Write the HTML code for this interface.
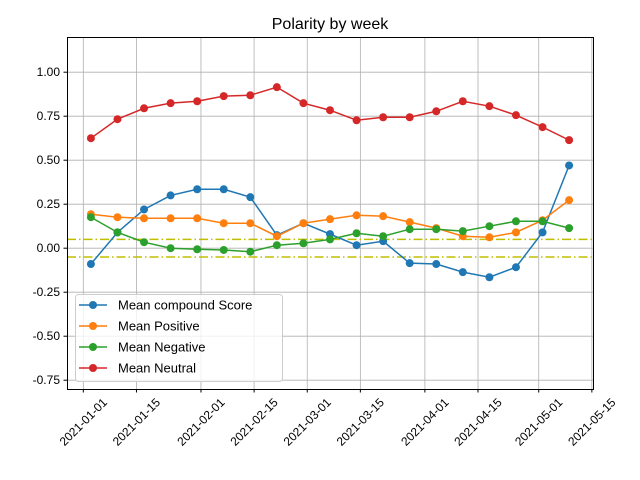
<!DOCTYPE html>
<html><head><meta charset="utf-8"><style>
body{margin:0;background:#fff}
svg{font-family:"Liberation Sans","DejaVu Sans",sans-serif;display:block}
</style></head><body>
<svg id="chart" width="640" height="480" viewBox="0 0 640 480" xmlns="http://www.w3.org/2000/svg">
<rect width="640" height="480" fill="#fff"/>
<text x="330" y="29" font-size="16" text-anchor="middle" fill="#000">Polarity by week</text>
<g id="grid"></g>
<g id="refs"></g>
<g id="series"></g>
<rect x="67.5" y="37.5" width="526" height="352" fill="none" stroke="#000" stroke-width="1"/>
<g id="axes"></g>
<g id="legend"></g>
</svg>
<script>
const compound=[-0.09,0.09,0.22,0.30,0.335,0.335,0.29,0.074,0.142,0.08,0.017,0.04,-0.085,-0.09,-0.136,-0.165,-0.108,0.09,0.47];
const positive=[0.193,0.176,0.17,0.17,0.17,0.142,0.142,0.068,0.142,0.165,0.187,0.182,0.148,0.114,0.068,0.062,0.09,0.159,0.273];
const negative=[0.176,0.09,0.034,0.0,-0.006,-0.01,-0.02,0.017,0.028,0.05,0.085,0.068,0.108,0.108,0.097,0.125,0.153,0.153,0.114];
const neutral=[0.625,0.733,0.795,0.824,0.835,0.864,0.869,0.915,0.824,0.784,0.727,0.744,0.744,0.778,0.835,0.807,0.756,0.688,0.614];
const yTicks=[-0.75,-0.5,-0.25,0,0.25,0.5,0.75,1.0];
const xTickLabels=["2021-01-01","2021-01-15","2021-02-01","2021-02-15","2021-03-01","2021-03-15","2021-04-01","2021-04-15","2021-05-01","2021-05-15"];
const refLines=[0.05,-0.05];
const seriesNames=["Mean compound Score","Mean Positive","Mean Negative","Mean Neutral"];
const NS="http://www.w3.org/2000/svg";
const DAY=86400000;
const t0=Date.UTC(2021,0,3);
const xMin=t0-6.3*DAY, xMax=t0+126*DAY+6.3*DAY;
const X=t=>67+(t-xMin)/(xMax-xMin)*526;
const Y=v=>37+(1.2-v)/2.0*352;
function el(tag,attrs,parent){const e=document.createElementNS(NS,tag);for(const k in attrs)e.setAttribute(k,attrs[k]);parent.appendChild(e);return e;}
const grid=document.getElementById('grid'),axes=document.getElementById('axes'),refs=document.getElementById('refs'),ser=document.getElementById('series'),leg=document.getElementById('legend');
yTicks.forEach(v=>{const y=Y(v);
 const g=el('line',{x1:67,x2:593,y1:y,y2:y,stroke:'#b0b0b0','stroke-width':0.8},grid);
 
 el('line',{x1:63.5,x2:67,y1:y,y2:y,stroke:'#000'},axes);
 const t=el('text',{x:60,y:y+4,'font-size':12,'text-anchor':'end'},axes);t.textContent=v.toFixed(2);
 
});
xTickLabels.forEach(s=>{const p=s.split('-');const x=X(Date.UTC(+p[0],+p[1]-1,+p[2]));
 const g=el('line',{x1:x,x2:x,y1:37,y2:389,stroke:'#b0b0b0','stroke-width':0.8},grid);
 
 el('line',{x1:x,x2:x,y1:389,y2:392.5,stroke:'#000'},axes);
 const t=el('text',{x:0,y:4,'font-size':12,'text-anchor':'middle',transform:`translate(${x},${422}) rotate(-45)`},axes);t.textContent=s;
 
});
refLines.forEach(v=>{const l=el('line',{x1:67,x2:593,y1:Y(v),y2:Y(v),stroke:'#bfbf00','stroke-width':1.5,'stroke-dasharray':'9,3,1.5,3'},refs);
 });
const colors=['#1f77b4','#ff7f0e','#2ca02c','#d62728'];
[compound,positive,negative,neutral].forEach((arr,i)=>{
 const g=el('g',{},ser);
 const pts=arr.map((v,k)=>[X(t0+7*k*DAY),Y(v)]);
 const pl=el('polyline',{points:pts.map(p=>p.join(',')).join(' '),fill:'none',stroke:colors[i],'stroke-width':1.5},g);
 
 pts.forEach(p=>{const c=el('circle',{cx:p[0],cy:p[1],r:4,fill:colors[i]},g);
  });
});
const lb=el('rect',{x:75.5,y:294.5,width:207,height:87,rx:3,fill:'#fff','fill-opacity':0.8,stroke:'#ccc'},leg);

seriesNames.forEach((n,i)=>{const y=305+i*21;
 const g=el('g',{},leg);
 el('line',{x1:79,x2:107,y1:y,y2:y,stroke:colors[i],'stroke-width':1.5},g);
 el('circle',{cx:93,cy:y,r:4,fill:colors[i]},g);
 const t=el('text',{x:118,y:y+4.5,'font-size':13},g);t.textContent=n;});
</script>
</body></html>
